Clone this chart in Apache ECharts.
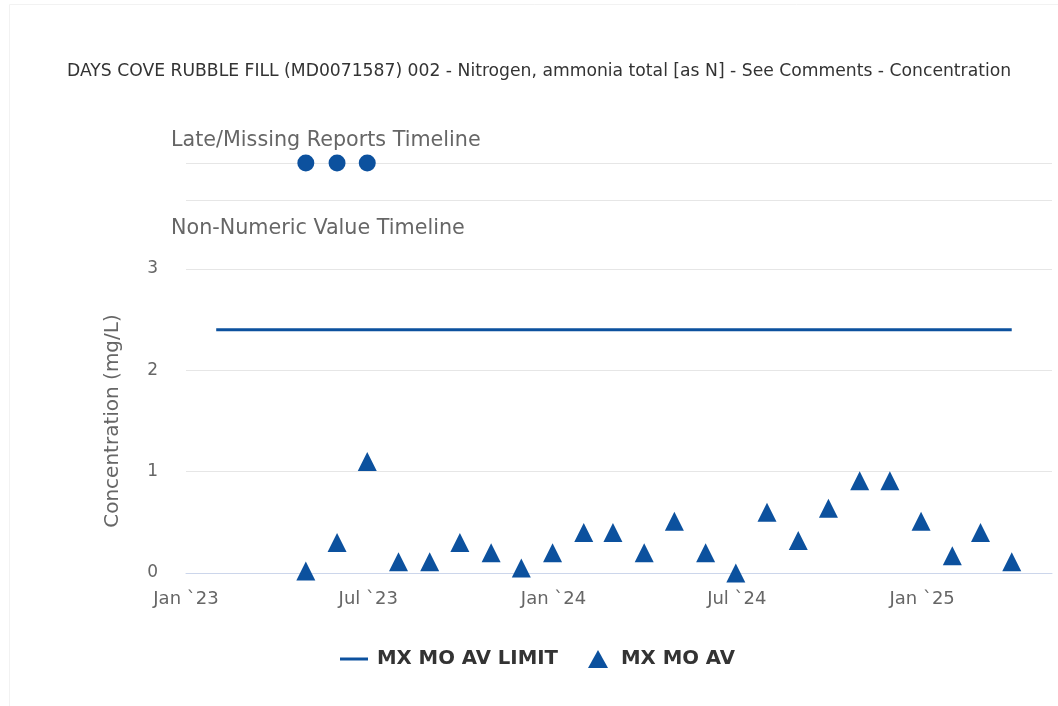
<!DOCTYPE html>
<html>
<head>
<meta charset="utf-8">
<script src="https://cdn.jsdelivr.net/npm/echarts@6/dist/echarts.min.js"></script>
<style>
html,body{margin:0;padding:0;background:#fff;}
#chart{width:1058px;height:706px;}
</style>
</head>
<body>
<div id="chart"></div>
<script>
// ---- data ----
var titleText = 'DAYS COVE RUBBLE FILL (MD0071587) 002 - Nitrogen, ammonia total [as N] - See Comments - Concentration';
var lateLabel = 'Late/Missing Reports Timeline';
var nonNumLabel = 'Non-Numeric Value Timeline';
var yAxisName = 'Concentration (mg/L)';
var limitName = 'MX MO AV LIMIT';
var valueName = 'MX MO AV';

var tickDates = ['2023-01-01','2023-07-01','2024-01-01','2024-07-01','2025-01-01'];
var tickLabels = ['Jan `23','Jul `23','Jan `24','Jul `24','Jan `25'];

var limitDates = ['2023-01-31','2023-02-28','2023-03-31','2023-04-30','2023-05-31','2023-06-30',
  '2023-07-31','2023-08-31','2023-09-30','2023-10-31','2023-11-30','2023-12-31',
  '2024-01-31','2024-02-29','2024-03-31','2024-04-30','2024-05-31','2024-06-30',
  '2024-07-31','2024-08-31','2024-09-30','2024-10-31','2024-11-30','2024-12-31',
  '2025-01-31','2025-02-28','2025-03-31'];
var limitValues = [2.4,2.4,2.4,2.4,2.4,2.4,2.4,2.4,2.4,2.4,2.4,2.4,2.4,2.4,2.4,2.4,2.4,2.4,2.4,2.4,2.4,2.4,2.4,2.4,2.4,2.4,2.4];

var valueDates = ['2023-04-30','2023-05-31','2023-06-30','2023-07-31','2023-08-31','2023-09-30',
  '2023-10-31','2023-11-30','2023-12-31','2024-01-31','2024-02-29','2024-03-31',
  '2024-04-30','2024-05-31','2024-06-30','2024-07-31','2024-08-31','2024-09-30',
  '2024-10-31','2024-11-30','2024-12-31','2025-01-31','2025-02-28','2025-03-31'];
var values = [0.02,0.30,1.10,0.11,0.11,0.30,0.20,0.05,0.20,0.40,0.40,0.20,
  0.51,0.20,0.00,0.60,0.32,0.64,0.91,0.91,0.51,0.17,0.40,0.11];

var lateDates = ['2023-04-30','2023-05-31','2023-06-30'];

var xMin = '2023-01-01';
var xMax = '2025-05-10';

// ---- helpers ----
function ts(s){ var p = s.split('-'); return Date.UTC(+p[0], +p[1]-1, +p[2]); }
function pairs(d, v){ return d.map(function(x,i){ return [ts(x), v[i]]; }); }

var BLUE = '#0c519e';
var FONT = 'DejaVu Sans';
var tickTs = tickDates.map(ts);

var chart = echarts.init(document.getElementById('chart'), null, {renderer:'canvas'});
chart.setOption({
  backgroundColor: '#fff',
  animation: false,
  textStyle: {fontFamily: FONT},
  title: [
    {text: titleText, left: 62, top: 58,
     textStyle: {fontSize: 17.2, fontWeight: 'normal', color: '#333', fontFamily: FONT}},
    {text: lateLabel, left: 166, top: 125,
     textStyle: {fontSize: 20.7, fontWeight: 'normal', color: '#666', fontFamily: FONT}},
    {text: nonNumLabel, left: 166, top: 213,
     textStyle: {fontSize: 20.7, fontWeight: 'normal', color: '#666', fontFamily: FONT}}
  ],
  graphic: [
    {type: 'rect', shape: {x: 9.5, y: 4.5, width: 1060, height: 720},
     style: {fill: 'none', stroke: '#f2f2f2', lineWidth: 1}, silent: true}
  ],
  legend: {
    bottom: 32, left: 335,
    itemWidth: 28, itemHeight: 18, itemGap: 30,
    textStyle: {fontSize: 19.7, fontWeight: 'bold', color: '#333', fontFamily: FONT, padding: [0, 0, 0, 4]},
    data: [
      {name: limitName, icon: 'path://M0,0 L28,0 L28,3 L0,3 Z'},
      {name: valueName, icon: 'path://M10,0 L20,18 L0,18 Z'}
    ]
  },
  grid: [
    {left: 186, right: 6, top: 163, height: 37},
    {left: 186, right: 6, top: 269, height: 304}
  ],
  xAxis: [
    {type: 'value', gridIndex: 0, min: ts(xMin), max: ts(xMax), show: false},
    {type: 'value', gridIndex: 1, min: ts(xMin), max: ts(xMax),
     axisLine: {show: true, onZero: false, lineStyle: {color: '#ccd6eb', width: 1}},
     axisTick: {show: false},
     splitLine: {show: false},
     axisLabel: {
       customValues: tickTs,
       margin: 17, fontSize: 18, color: '#666', fontFamily: FONT,
       formatter: function(v){ var i = tickTs.indexOf(v); return i >= 0 ? tickLabels[i] : ''; }
     }
    }
  ],
  yAxis: [
    {type: 'value', gridIndex: 0, min: 0, max: 1, interval: 1,
     axisLabel: {show: false}, axisLine: {show: false}, axisTick: {show: false},
     splitLine: {show: true, lineStyle: {color: '#e6e6e6', width: 1}}},
    {type: 'value', gridIndex: 1, min: 0, max: 3, interval: 1,
     name: yAxisName, nameLocation: 'middle', nameGap: 63,
     nameTextStyle: {fontSize: 20, color: '#666', fontFamily: FONT},
     axisLine: {show: false}, axisTick: {show: false},
     axisLabel: {margin: 28, fontSize: 17, color: '#666', fontFamily: FONT},
     splitLine: {show: true, lineStyle: {color: '#e6e6e6', width: 1}}}
  ],
  series: [
    {name: 'late', type: 'scatter', xAxisIndex: 0, yAxisIndex: 0,
     symbol: 'circle', symbolSize: 17, itemStyle: {color: BLUE, opacity: 1},
     data: lateDates.map(function(d){ return [ts(d), 1]; })},
    {name: limitName, type: 'line', xAxisIndex: 1, yAxisIndex: 1,
     showSymbol: false, symbol: 'none',
     lineStyle: {color: BLUE, width: 3}, itemStyle: {color: BLUE},
     data: pairs(limitDates, limitValues)},
    {name: valueName, type: 'scatter', xAxisIndex: 1, yAxisIndex: 1,
     symbol: 'triangle', symbolSize: [19, 19], itemStyle: {color: BLUE, opacity: 1},
     data: pairs(valueDates, values)}
  ]
});
</script>
</body>
</html>
